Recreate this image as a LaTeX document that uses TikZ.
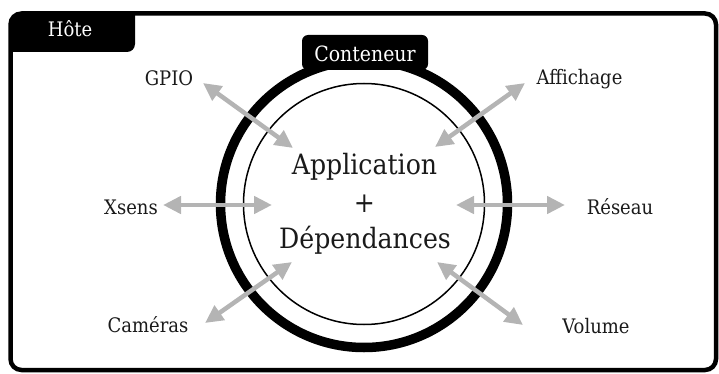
\documentclass[tikz,border=0pt]{standalone}
\usepackage{fontspec}
\setmainfont{DejaVu Serif Condensed}
\usetikzlibrary{arrows.meta}
\definecolor{ink}{HTML}{1A1A1A}
\definecolor{linkgray}{HTML}{B4B4B4}
\begin{document}
\begin{tikzpicture}[x=1pt,y=-1pt,
  labeltext/.style={text=ink, font=\fontsize{20}{24}\selectfont, inner sep=0pt, anchor=base},
  coretext/.style={text=ink, font=\fontsize{28}{34}\selectfont, inner sep=0pt, anchor=base},
  tabtext/.style={text=white, font=\fontsize{20}{24}\selectfont, inner sep=0pt, anchor=base},
  linkarrow/.style={draw=linkgray, line width=4.5pt,
    {Triangle[length=18pt,width=17pt]}-{Triangle[length=18pt,width=17pt]}},
]
\useasboundingbox (0,0) rectangle (719,374);

% host frame with its tab
\begin{scope}
  \clip[rounded corners=11pt] (10.5,13.5) rectangle (716,370);
  \fill[black, rounded corners=8pt] (-20,0) rectangle (135,52);
\end{scope}
\draw[line width=4.5pt, rounded corners=11pt] (10.5,13.5) rectangle (716,370);
\node[tabtext] (host) at (70,37) {Hôte};

% container rings
\node[circle, draw, line width=9.5pt, minimum size=287pt, inner sep=0pt] (ring) at (364,204) {};
\node[circle, draw, line width=1.5pt, minimum size=241pt, inner sep=0pt] (core) at (364,204) {};

% contents
\node[coretext] (app) at (364.5,175) {Application};
\node[coretext] (plus) at (364.5,212) {+};
\node[coretext] (dep) at (365,248) {Dépendances};

% peripherals
\node[labeltext] (gpio) at (169,86) {GPIO};
\node[labeltext] (affichage) at (579.5,85) {Affichage};
\node[labeltext] (xsens) at (131,214) {Xsens};
\node[labeltext] (reseau) at (620,214) {Réseau};
\node[labeltext] (cameras) at (148,332) {Caméras};
\node[labeltext] (volume) at (596,333) {Volume};

% arrow end points
\coordinate (gpioA) at (203,83);     \coordinate (gpioB) at (293,148);
\coordinate (affA) at (525,83);      \coordinate (affB) at (435,147);
\coordinate (xsensA) at (163,205);   \coordinate (xsensB) at (272,205);
\coordinate (resA) at (565,205);     \coordinate (resB) at (456,205);
\coordinate (camA) at (205,323);     \coordinate (camB) at (292,262);
\coordinate (volA) at (523,325);     \coordinate (volB) at (437,262);

\draw[linkarrow] (gpioA) -- (gpioB);
\draw[linkarrow] (affA) -- (affB);
\draw[linkarrow] (xsensA) -- (xsensB);
\draw[linkarrow] (resA) -- (resB);
\draw[linkarrow] (camA) -- (camB);
\draw[linkarrow] (volA) -- (volB);

% container tab
\node[fill=black, rounded corners=6pt, minimum width=126pt, minimum height=35pt, inner sep=0pt] (conttab) at (365,52.5) {};
\node[tabtext, font=\fontsize{21}{25}\selectfont] (cont) at (365,62) {Conteneur};
\end{tikzpicture}
\end{document}
